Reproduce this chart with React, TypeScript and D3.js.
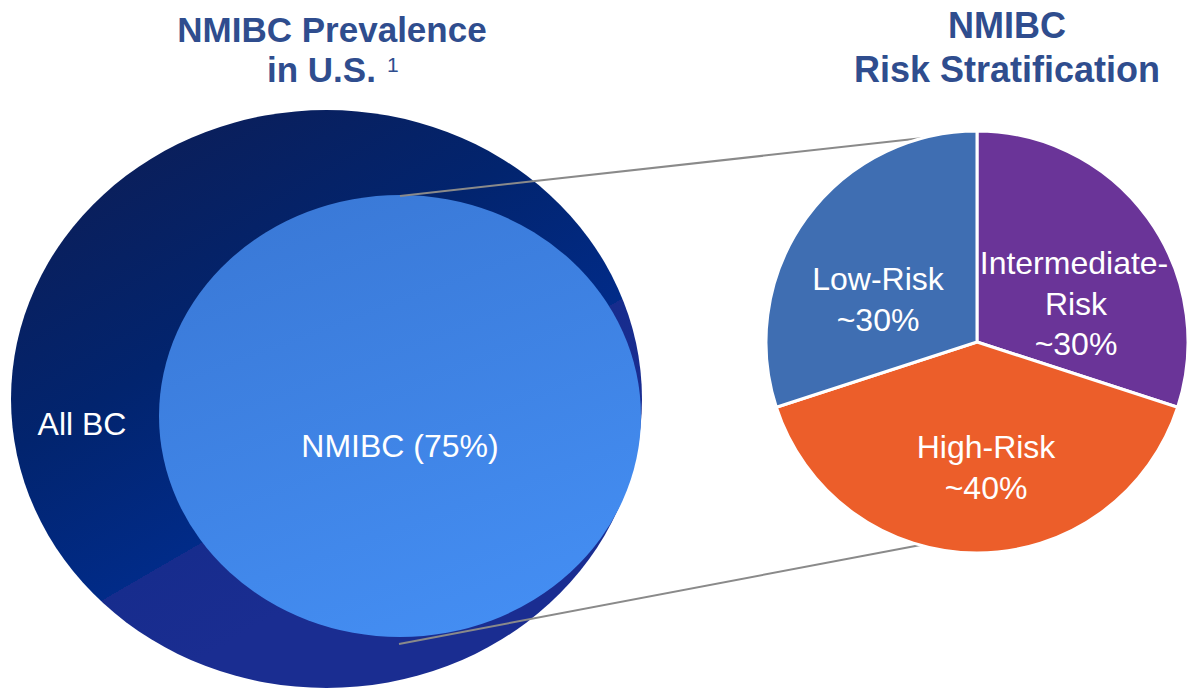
import React, { useEffect, useRef } from 'react';
import * as d3 from 'd3';

// Venn part: share of all bladder cancer that is non-muscle invasive
const vennSets = ['All BC', 'NMIBC (75%)'];
const vennValues = [100, 75];

// Pie part: risk stratification, clockwise from 12 o'clock
const riskLabels = [['Intermediate-', 'Risk', '~30%'], ['High-Risk', '~40%'], ['Low-Risk', '~30%']];
const riskValues = [30, 40, 30];
const riskColors = ['#6a3498', '#ec5e2a', '#3f6eb2'];

const leftTitle = ['NMIBC Prevalence', 'in U.S.'];
const rightTitle = ['NMIBC', 'Risk Stratification'];

const TITLE = '#2f4d8e';
const FONT = '"Liberation Sans", Arial, Helvetica, sans-serif';

export default function App() {
  const svgRef = useRef<SVGSVGElement>(null);

  useEffect(() => {
    document.body.style.margin = '0';
    if (!svgRef.current) return;
    const svg = d3.select(svgRef.current);
    svg.selectAll('*').remove();

    const defs = svg.append('defs');

    // outer ellipse: dark navy with a hard edge to a lighter band bottom-right
    const outerGrad = defs.append('linearGradient')
      .attr('id', 'outerGrad')
      .attr('gradientUnits', 'userSpaceOnUse')
      .attr('x1', -78).attr('y1', 290)
      .attr('x2', 153).attr('y2', 688);
    outerGrad.append('stop').attr('offset', 0).attr('stop-color', '#0a1f5c');
    outerGrad.append('stop').attr('offset', 0.4).attr('stop-color', '#02246e');
    outerGrad.append('stop').attr('offset', 0.78).attr('stop-color', '#012b88');
    outerGrad.append('stop').attr('offset', 0.78).attr('stop-color', '#172c8d');
    outerGrad.append('stop').attr('offset', 1).attr('stop-color', '#1a2d91');

    const innerGrad = defs.append('linearGradient')
      .attr('id', 'innerGrad')
      .attr('x1', 0.3).attr('y1', 0)
      .attr('x2', 0.7).attr('y2', 1);
    innerGrad.append('stop').attr('offset', 0).attr('stop-color', '#3a79d7');
    innerGrad.append('stop').attr('offset', 1).attr('stop-color', '#448ef3');

    // sizes of the two sets
    const rx = d3.scaleLinear().domain([0, 100]).range([0, 315.5]);
    const ry = d3.scaleLinear().domain([0, 100]).range([0, 289]);
    const inner = { cx: 400, cy: 416, rx: 241, ry: 221 };
    const venn = [
      { name: vennSets[0], cx: 326.5, cy: 399, rx: rx(vennValues[0]), ry: ry(vennValues[0]), fill: 'url(#outerGrad)', tx: 82, ty: 435 },
      { name: vennSets[1], cx: inner.cx, cy: inner.cy, rx: inner.rx, ry: inner.ry, fill: 'url(#innerGrad)', tx: 400, ty: 457 },
    ];

    svg.append('g').selectAll('ellipse').data(venn).join('ellipse')
      .attr('cx', d => d.cx).attr('cy', d => d.cy)
      .attr('rx', d => d.rx).attr('ry', d => d.ry)
      .attr('fill', d => d.fill);

    svg.append('g').selectAll('text').data(venn).join('text')
      .attr('x', d => d.tx).attr('y', d => d.ty)
      .attr('text-anchor', 'middle')
      .attr('fill', '#fff')
      .attr('font-family', FONT)
      .attr('font-size', 32)
      .text(d => d.name);

    // pie
    const pcx = 977, pcy = 342, r = 211;
    const pie = d3.pie<number>().sort(null).startAngle(0).endAngle(2 * Math.PI);
    const arcs = pie(riskValues);
    const arc = d3.arc<d3.PieArcDatum<number>>().innerRadius(0).outerRadius(r);

    // connector lines from the NMIBC ellipse to the pie
    const topPt = d3.pointRadial(-9.3 * Math.PI / 180, r - 2);
    const botPt = d3.pointRadial(195.2 * Math.PI / 180, r - 1);
    const connectors = [
      [[inner.cx, inner.cy - inner.ry + 1], [pcx + topPt[0], pcy + topPt[1]]],
      [[inner.cx - 1, inner.cy + inner.ry + 7], [pcx + botPt[0], pcy + botPt[1]]],
    ];
    svg.append('g').selectAll('line').data(connectors).join('line')
      .attr('x1', d => d[0][0]).attr('y1', d => d[0][1])
      .attr('x2', d => d[1][0]).attr('y2', d => d[1][1])
      .attr('stroke', '#8a8a8a')
      .attr('stroke-width', 2);

    const pg = svg.append('g').attr('transform', `translate(${pcx},${pcy})`);
    pg.selectAll('path').data(arcs).join('path')
      .attr('d', arc)
      .attr('fill', (_, i) => riskColors[i])
      .attr('stroke', '#fff')
      .attr('stroke-width', 3)
      .attr('stroke-linejoin', 'round');

    // label anchors: [x, first baseline] relative to the pie centre
    const labelPos = [[99, -68], [9, 116], [-99, -52]];
    pg.selectAll('text.lbl').data(arcs).join('text')
      .attr('class', 'lbl')
      .attr('text-anchor', 'middle')
      .attr('fill', '#fff')
      .attr('font-family', FONT)
      .attr('font-size', 32)
      .each(function (_, i) {
        const t = d3.select(this);
        riskLabels[i].forEach((line, j) => {
          t.append('tspan')
            .attr('x', labelPos[i][0] + (i === 0 && j === 0 ? -2 : 0))
            .attr('y', labelPos[i][1] + j * 40.5)
            .text(line);
        });
      });

    // titles
    const tg = svg.append('g')
      .attr('font-family', FONT)
      .attr('font-weight', 'bold')
      .attr('fill', TITLE);
    tg.append('text').attr('x', 332).attr('y', 42).attr('text-anchor', 'middle')
      .attr('font-size', 35).text(leftTitle[0]);
    tg.append('text').attr('x', 267).attr('y', 82)
      .attr('font-size', 35).text(leftTitle[1]);
    tg.append('text').attr('x', 387).attr('y', 72)
      .attr('font-size', 21).attr('font-weight', 'normal').text('1');
    tg.append('text').attr('x', 1007).attr('y', 38).attr('text-anchor', 'middle')
      .attr('font-size', 36).text(rightTitle[0]);
    tg.append('text').attr('x', 1007).attr('y', 82).attr('text-anchor', 'middle')
      .attr('font-size', 36).text(rightTitle[1]);
  }, []);

  return (
    <svg ref={svgRef} width={1200} height={693} style={{ display: 'block', background: '#fff' }} />
  );
}
